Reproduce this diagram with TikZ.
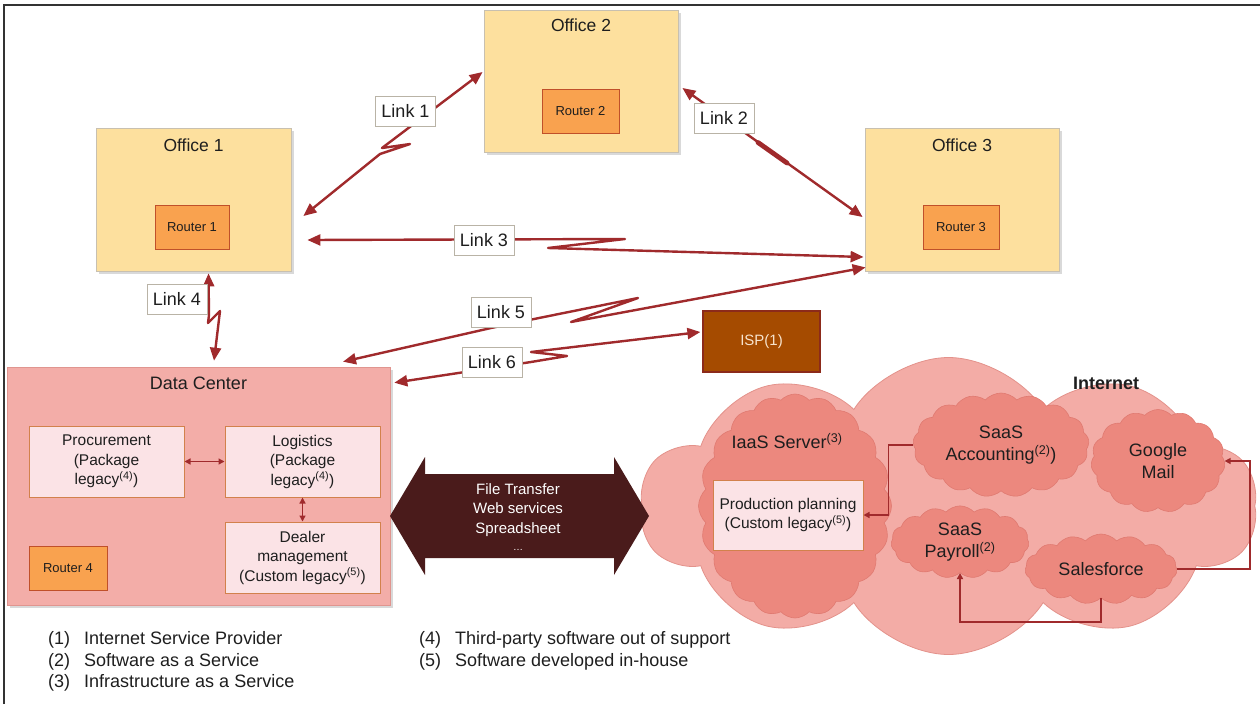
\documentclass[tikz,border=0pt]{standalone}
\usepackage{fontspec}
\setmainfont{Liberation Sans}
\usetikzlibrary{arrows.meta,shapes.symbols,shadows,calc}
\definecolor{officeY}{HTML}{FDE09E}
\definecolor{officeB}{HTML}{C8C0B0}
\definecolor{routerO}{HTML}{F9A24F}
\definecolor{routerB}{HTML}{C0502A}
\definecolor{dcFill}{HTML}{F3ADA8}
\definecolor{dcB}{HTML}{E0958F}
\definecolor{appFill}{HTML}{FBE3E6}
\definecolor{appB}{HTML}{D2814C}
\definecolor{ispFill}{HTML}{A54B00}
\definecolor{ispB}{HTML}{8C2A1A}
\definecolor{ispT}{HTML}{F7E3CC}
\definecolor{linkRed}{HTML}{A02A2C}
\definecolor{bigArrow}{HTML}{4A1B1B}
\definecolor{netFill}{HTML}{F3ACA6}
\definecolor{netB}{HTML}{E3928B}
\definecolor{subFill}{HTML}{EC887E}
\definecolor{subB}{HTML}{E07A71}
\definecolor{txt}{HTML}{1E1E1E}
\newcommand{\fnref}[1]{\textsuperscript{(#1)}}
\begin{document}
\begin{tikzpicture}[x=1pt,y=-1pt,
  every node/.style={text=txt},
  office/.style={draw=officeB, line width=0.8pt, fill=officeY, drop shadow={opacity=0.3, shadow xshift=2.5pt, shadow yshift=-2.5pt}},
  router/.style={draw=routerB, line width=1pt, fill=routerO, font=\fontsize{13}{15}\selectfont, minimum height=44pt},
  title/.style={font=\fontsize{17.5}{21}\selectfont},
  dcbox/.style={draw=dcB, line width=0.6pt, fill=dcFill, drop shadow={opacity=0.3, shadow xshift=2.5pt, shadow yshift=-2.5pt}},
  app/.style={draw=appB, line width=1pt, fill=appFill, align=center, font=\fontsize{15.5}{19.5}\selectfont, minimum width=155pt, minimum height=71pt, inner sep=2pt},
  linklbl/.style={draw=officeB!80!gray, line width=0.7pt, fill=white, font=\fontsize{18}{21}\selectfont, minimum height=30pt, inner xsep=6pt},
  link/.style={draw=linkRed, line width=2.4pt, line join=round, {Triangle[length=13pt,width=11pt]}-{Triangle[length=13pt,width=11pt]}},
  small/.style={draw=linkRed, line width=1.3pt, {Triangle[length=6pt,width=6pt]}-{Triangle[length=6pt,width=6pt]}},
  cl/.style={draw=linkRed, line width=1.5pt, -{Triangle[length=6pt,width=6pt]}},
  bigcloud/.style={shape=cloud, cloud ignores aspect, draw=netB, line width=0.8pt, fill=netFill},
  subcloud/.style={shape=cloud, cloud ignores aspect, cloud puff arc=95, draw=subB, line width=0.6pt, fill=subFill, align=center, font=\fontsize{18}{22}\selectfont}
]
\useasboundingbox (0,0) rectangle (1260,704);
% frame
\draw[line width=1.6pt, draw=black!80] (4,704) -- (4,5) -- (1260,5);

% offices
\node[office, minimum width=195pt, minimum height=143pt] (o1) at (193.5,199.5) {};
\node[title] (o1t) at (193.5,145) {Office 1};
\node[router, minimum width=74pt] (r1) at (192,227) {Router 1};
\node[office, minimum width=194pt, minimum height=142pt] (o2) at (581,81) {};
\node[title] (o2t) at (581,25) {Office 2};
\node[router, minimum width=77pt] (r2) at (580.5,111) {Router 2};
\node[office, minimum width=194pt, minimum height=143pt] (o3) at (962,199.5) {};
\node[title] (o3t) at (962,145) {Office 3};
\node[router, minimum width=76pt] (r3) at (961,227) {Router 3};

% data center
\node[dcbox, minimum width=383pt, minimum height=238pt] (dc) at (198.5,486) {};
\node[title, font=\fontsize{18}{21}\selectfont] (dct) at (198.5,383) {Data Center};
\node[app] (proc) at (106.5,461.5) {Procurement\\(Package\\legacy\fnref{4})};
\node[app] (log) at (302.5,461.5) {Logistics\\(Package\\legacy\fnref{4})};
\node[app] (deal) at (302.5,557.5) {Dealer\\management\\(Custom legacy\fnref{5})};
\node[router, minimum width=78pt] (r4) at (68,568) {Router 4};
\draw[small] (proc.east) -- (log.west);
\draw[small] (log.south) -- (deal.north);

% ISP
\node[draw=ispB, line width=1.2pt, fill=ispFill, text=ispT, minimum width=117pt, minimum height=61pt, font=\fontsize{15}{18}\selectfont] (isp) at (761.5,341.5) {ISP(1)};

% Internet cloud
\node[bigcloud, cloud puffs=10, cloud puff arc=115, minimum width=617pt, minimum height=297pt] (inet) at (948.5,506) {};
\node[font=\bfseries\fontsize{18}{21}\selectfont] (inett) at (1106,383) {Internet};
\node[subcloud, cloud puffs=20, minimum width=193pt, minimum height=224pt] (iaas) at (795,506) {};
\node[font=\fontsize{18}{21}\selectfont] (iaast) at (787,441) {IaaS Server\fnref{3}};
\node[app, minimum width=150pt, minimum height=70pt] (pp) at (788,515) {Production planning\\(Custom legacy\fnref{5})};
\node[subcloud, cloud puffs=17, minimum width=176pt, minimum height=104pt] (acc) at (1001,445) {SaaS\\Accounting\fnref{2})};
\node[subcloud, cloud puffs=15, minimum width=134pt, minimum height=103pt] (gm) at (1158,461) {Google\\Mail};
\node[subcloud, cloud puffs=15, minimum width=138pt, minimum height=72pt] (pay) at (960,542) {SaaS\\Payroll\fnref{2}};
\node[subcloud, cloud puffs=15, minimum width=152pt, minimum height=70pt] (sf) at (1101,569) {Salesforce};
\draw[cl] (acc.west) -- ++(-25,0) |- (pp.east);
\draw[cl] (sf.east) -- ++(73,0) |- (gm.east);
\draw[cl] (sf.south) -- ++(0,24) -| (pay.south);

% big double arrow
\fill[bigArrow] (390,516) -- (425,457) -- (425,474) -- (614,474) -- (614,457) -- (649,516)
  -- (614,575) -- (614,558) -- (425,558) -- (425,575) -- cycle;
\node[text=white, align=center, font=\fontsize{15}{19.5}\selectfont] (xfer) at (518,517)
  {File Transfer\\Web services\\Spreadsheet\\[-2pt]{\fontsize{10}{12}\selectfont\dots}};

% links
\draw[link] ($(o1.east)+(12,16.5)$) -- (380,154) -- (410,144) -- (382,148) -- ($(o2.west)+(-1,-9)$);
\draw[link] ($(o2.east)+(4,7)$) -- ($(o3.west)+(-2,17.5)$);
\draw[draw=linkRed, line width=4.8pt, line cap=round] (758,142.5) -- (787,163);
\draw[link] ($(o1.east)+(16,40.5)$) -- (625,239) -- (548,248) -- ($(o3.west)+(-1,57.5)$);
\draw[link] ($(o1.south)+(15,2)$) -- (209,315) -- (208,323) -- (220,311) -- ($(dc.north)+(15.5,-6)$);
\draw[link] ($(dc.north)+(144.5,-5)$) -- (491,328) -- (539,318) -- (638,298) -- (571,322) -- ($(o3.south west)+(1,-4)$);
\draw[link] ($(dc.north east)+(4,16)$) -- (531,362) -- (567,356) -- (531,352) -- ($(isp.west)+(-2,-9.5)$);

\node[linklbl] (l1) at (405.5,111) {Link 1};
\node[linklbl] (l2) at (724,118) {Link 2};
\node[linklbl] (l3) at (484,240) {Link 3};
\node[linklbl] (l4) at (177,299) {Link 4};
\node[linklbl] (l5) at (501,312) {Link 5};
\node[linklbl] (l6) at (492,362) {Link 6};

% footnotes
\node[anchor=west, align=left, inner sep=0pt, font=\fontsize{18}{21.5}\selectfont] (fn1) at (48,661.5)
  {\makebox[36pt][l]{(1)}Internet Service Provider\\\makebox[36pt][l]{(2)}Software as a Service\\\makebox[36pt][l]{(3)}Infrastructure as a Service};
\node[anchor=west, align=left, inner sep=0pt, font=\fontsize{18}{21.5}\selectfont] (fn2) at (419,651)
  {\makebox[36pt][l]{(4)}Third-party software out of support\\\makebox[36pt][l]{(5)}Software developed in-house};
\end{tikzpicture}
\end{document}
